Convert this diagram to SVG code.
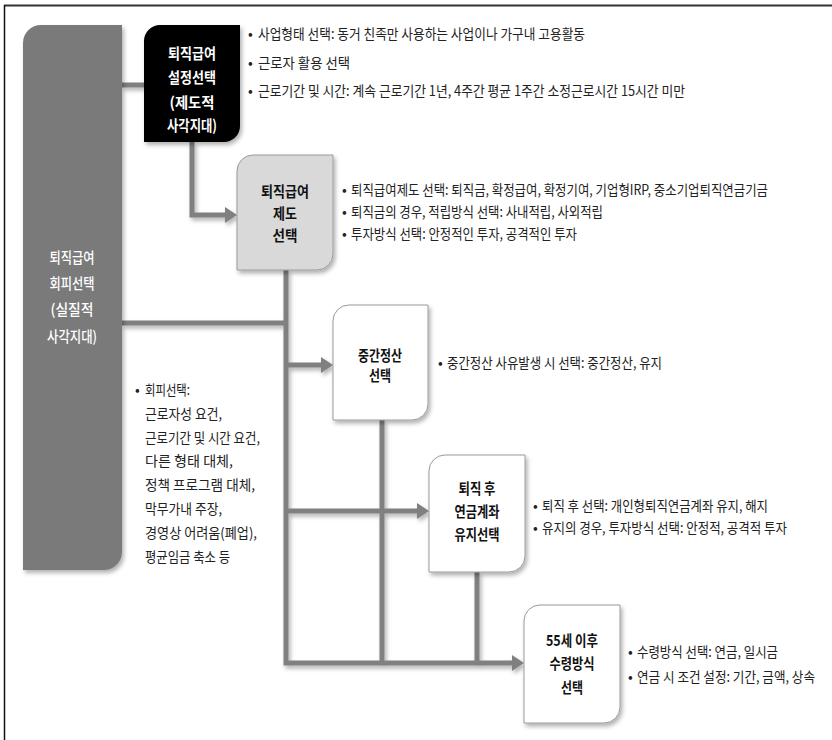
<svg xmlns="http://www.w3.org/2000/svg" width="832" height="740" viewBox="0 0 832 740">
<style>
.t{font-family:"Noto Sans CJK KR","Noto Sans",sans-serif;font-size:14px;fill:#222}
.n{font-family:"Noto Sans CJK KR","Noto Sans",sans-serif;font-size:15px;font-weight:700;text-anchor:middle}
.w{fill:#fff}
.k{fill:#111}
.box{stroke:#9a9a9a;stroke-width:1}
.c{fill:none;stroke:#808080;stroke-width:5}
</style>
<defs>
<filter id="sh" x="-10%" y="-10%" width="130%" height="130%">
<feDropShadow dx="2" dy="3" stdDeviation="2" flood-color="#000" flood-opacity="0.3"/>
</filter>
<marker id="ah" markerUnits="userSpaceOnUse" markerWidth="12" markerHeight="16" refX="0" refY="8" orient="auto">
<path d="M0,0 L12,8 L0,16 Z" fill="#808080"/>
</marker>
</defs>
<rect width="832" height="740" fill="#fff"/>
<line x1="4" y1="5.5" x2="832" y2="5.5" stroke="#333" stroke-width="2"/>
<line x1="4.5" y1="5" x2="4.5" y2="740" stroke="#111" stroke-width="1.5"/>

<g id="connectors" filter="url(#sh)">
<line class="c" x1="122" y1="85" x2="144" y2="85"/>
<polyline class="c" points="192,142 192,215 225,215" marker-end="url(#ah)"/>
<line class="c" x1="122" y1="323" x2="288" y2="323"/>
<polyline class="c" points="286,270 286,663 512,663" marker-end="url(#ah)"/>
<line class="c" x1="286" y1="365" x2="321" y2="365" marker-end="url(#ah)"/>
<line class="c" x1="286" y1="511" x2="417" y2="511" marker-end="url(#ah)"/>
<line class="c" x1="382" y1="420" x2="382" y2="663"/>
<line class="c" x1="477" y1="572" x2="477" y2="663"/>
</g>

<g id="node-avoid">
<path d="M41,25 H122 V552 A18,18 0 0 1 104,570 H23 V43 A18,18 0 0 1 41,25 Z" fill="#7a7a7a" filter="url(#sh)"/>
<text class="n w" style="font-weight:500" x="72" y="262.5" textLength="45" lengthAdjust="spacingAndGlyphs">퇴직급여</text>
<text class="n w" style="font-weight:500" x="72" y="288.5" textLength="45" lengthAdjust="spacingAndGlyphs">회피선택</text>
<text class="n w" style="font-weight:500" x="72" y="315" textLength="43" lengthAdjust="spacingAndGlyphs">(실질적</text>
<text class="n w" style="font-weight:500" x="72" y="341.5" textLength="50" lengthAdjust="spacingAndGlyphs">사각지대)</text>
</g>

<g id="node-setup">
<path d="M160,25 H240 V126 A16,16 0 0 1 224,142 H144 V41 A16,16 0 0 1 160,25 Z" fill="#000" filter="url(#sh)"/>
<text class="n w" x="192" y="58.5" textLength="48" lengthAdjust="spacingAndGlyphs">퇴직급여</text>
<text class="n w" x="192" y="82.5" textLength="48" lengthAdjust="spacingAndGlyphs">설정선택</text>
<text class="n w" x="192" y="107.5" textLength="45" lengthAdjust="spacingAndGlyphs">(제도적</text>
<text class="n w" x="192" y="131" textLength="50" lengthAdjust="spacingAndGlyphs">사각지대)</text>
</g>

<g id="node-system">
<path class="box" d="M253,155 H333 V254 A16,16 0 0 1 317,270 H237 V171 A16,16 0 0 1 253,155 Z" fill="#d9d9d9" filter="url(#sh)"/>
<text class="n k" x="285" y="197" textLength="48" lengthAdjust="spacingAndGlyphs">퇴직급여</text>
<text class="n k" x="285" y="219" textLength="24" lengthAdjust="spacingAndGlyphs">제도</text>
<text class="n k" x="285" y="240.5" textLength="25" lengthAdjust="spacingAndGlyphs">선택</text>
</g>

<g id="node-interim">
<path class="box" d="M349,305 H428 V404 A16,16 0 0 1 412,420 H333 V321 A16,16 0 0 1 349,305 Z" fill="#fff" filter="url(#sh)"/>
<text class="n k" x="380" y="360.5" textLength="44" lengthAdjust="spacingAndGlyphs">중간정산</text>
<text class="n k" x="380" y="380.5" textLength="22" lengthAdjust="spacingAndGlyphs">선택</text>
</g>

<g id="node-after">
<path class="box" d="M445,455 H525 V556 A16,16 0 0 1 509,572 H429 V471 A16,16 0 0 1 445,455 Z" fill="#fff" filter="url(#sh)"/>
<text class="n k" x="477" y="493.5" textLength="37" lengthAdjust="spacingAndGlyphs">퇴직 후</text>
<text class="n k" x="477" y="516.5" textLength="45" lengthAdjust="spacingAndGlyphs">연금계좌</text>
<text class="n k" x="477" y="540" textLength="45" lengthAdjust="spacingAndGlyphs">유지선택</text>
</g>

<g id="node-55">
<path class="box" d="M540,605 H620 V707 A16,16 0 0 1 604,723 H524 V621 A16,16 0 0 1 540,605 Z" fill="#fff" filter="url(#sh)"/>
<text class="n k" x="572" y="645.5" textLength="52" lengthAdjust="spacingAndGlyphs">55세 이후</text>
<text class="n k" x="572" y="668.5" textLength="45" lengthAdjust="spacingAndGlyphs">수령방식</text>
<text class="n k" x="572" y="692.5" textLength="22" lengthAdjust="spacingAndGlyphs">선택</text>
</g>

<g id="notes-setup">
<text class="t" x="248" y="39">•</text>
<text class="t" x="258" y="39" textLength="327" lengthAdjust="spacingAndGlyphs">사업형태 선택: 동거 친족만 사용하는 사업이나 가구내 고용활동</text>
<text class="t" x="248" y="68">•</text>
<text class="t" x="258" y="68" textLength="92" lengthAdjust="spacingAndGlyphs">근로자 활용 선택</text>
<text class="t" x="248" y="96">•</text>
<text class="t" x="258" y="96" textLength="427" lengthAdjust="spacingAndGlyphs">근로기간 및 시간: 계속 근로기간 1년, 4주간 평균 1주간 소정근로시간 15시간 미만</text>
</g>

<g id="notes-system">
<text class="t" x="342" y="195">•</text>
<text class="t" x="351" y="195" textLength="417" lengthAdjust="spacingAndGlyphs">퇴직급여제도 선택: 퇴직금, 확정급여, 확정기여, 기업형IRP, 중소기업퇴직연금기금</text>
<text class="t" x="342" y="217">•</text>
<text class="t" x="351" y="217" textLength="252" lengthAdjust="spacingAndGlyphs">퇴직금의 경우, 적립방식 선택: 사내적립, 사외적립</text>
<text class="t" x="342" y="239">•</text>
<text class="t" x="351" y="239" textLength="226" lengthAdjust="spacingAndGlyphs">투자방식 선택: 안정적인 투자, 공격적인 투자</text>
</g>

<g id="notes-interim">
<text class="t" x="438" y="368">•</text>
<text class="t" x="447" y="368" textLength="215" lengthAdjust="spacingAndGlyphs">중간정산 사유발생 시 선택: 중간정산, 유지</text>
</g>

<g id="notes-after">
<text class="t" x="533" y="511">•</text>
<text class="t" x="542" y="511" textLength="226" lengthAdjust="spacingAndGlyphs">퇴직 후 선택: 개인형퇴직연금계좌 유지, 해지</text>
<text class="t" x="533" y="533">•</text>
<text class="t" x="542" y="533" textLength="245" lengthAdjust="spacingAndGlyphs">유지의 경우, 투자방식 선택: 안정적, 공격적 투자</text>
</g>

<g id="notes-55">
<text class="t" x="628" y="657">•</text>
<text class="t" x="637" y="657" textLength="141" lengthAdjust="spacingAndGlyphs">수령방식 선택: 연금, 일시금</text>
<text class="t" x="628" y="682">•</text>
<text class="t" x="637" y="682" textLength="178" lengthAdjust="spacingAndGlyphs">연금 시 조건 설정: 기간, 금액, 상속</text>
</g>

<g id="notes-avoid">
<text class="t" x="135" y="395">•</text>
<text class="t" x="145" y="395" textLength="45" lengthAdjust="spacingAndGlyphs">회피선택:</text>
<text class="t" x="145" y="419" textLength="77" lengthAdjust="spacingAndGlyphs">근로자성 요건,</text>
<text class="t" x="145" y="443" textLength="115" lengthAdjust="spacingAndGlyphs">근로기간 및 시간 요건,</text>
<text class="t" x="145" y="466" textLength="88" lengthAdjust="spacingAndGlyphs">다른 형태 대체,</text>
<text class="t" x="145" y="490" textLength="110" lengthAdjust="spacingAndGlyphs">정책 프로그램 대체,</text>
<text class="t" x="145" y="514" textLength="77" lengthAdjust="spacingAndGlyphs">막무가내 주장,</text>
<text class="t" x="145" y="538" textLength="112" lengthAdjust="spacingAndGlyphs">경영상 어려움(폐업),</text>
<text class="t" x="145" y="562" textLength="85" lengthAdjust="spacingAndGlyphs">평균임금 축소 등</text>
</g>
</svg>
